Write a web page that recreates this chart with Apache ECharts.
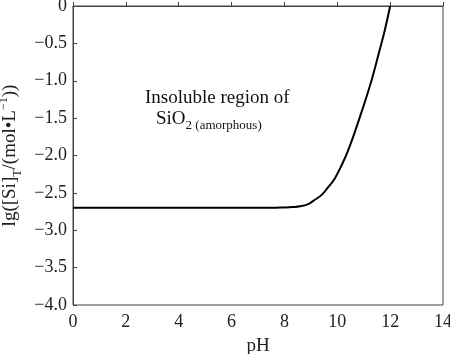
<!DOCTYPE html>
<html><head><meta charset="utf-8">
<script src="https://cdn.jsdelivr.net/npm/echarts@6/dist/echarts.min.js"></script>
<style>html,body{margin:0;padding:0;background:#fff}#c{width:450px;height:354px}</style>
</head><body><div id="c"></div>
<script>
const pH = [0, 2, 4, 6, 7, 7.5, 8, 8.3, 8.6, 8.9, 9.12, 9.4, 9.62, 9.9, 10.19, 10.4, 10.63, 11.01, 11.3, 11.58, 11.8, 12.0];
const lgSi = [-2.70, -2.70, -2.70, -2.70, -2.70, -2.70, -2.695, -2.69, -2.68, -2.65, -2.60, -2.53, -2.44, -2.31, -2.11, -1.94, -1.72, -1.32, -0.99, -0.62, -0.32, 0];
const xTicks = [0, 14, 2];
const yTicks = [-4, 0, 0.5];
const F = '"Liberation Serif", "Times New Roman", serif';
const chart = echarts.init(document.getElementById('c'), null, {renderer: 'canvas'});
chart.setOption({
  animation: false,
  grid: {left: 73, right: 7, top: 6, bottom: 49, containLabel: false, outerBoundsMode: 'none',
         show: true, borderColor: '#444', borderWidth: 1},
  xAxis: {
    type: 'value', min: xTicks[0], max: xTicks[1], interval: xTicks[2],
    name: 'pH', nameLocation: 'middle', nameGap: 32,
    nameTextStyle: {fontFamily: F, fontSize: 19, color: '#222'},
    axisLine: {lineStyle: {color: '#444'}},
    axisTick: {inside: true, length: 4, lineStyle: {color: '#444'}},
    axisLabel: {fontFamily: F, fontSize: 18, color: '#222', margin: 8},
    splitLine: {show: false}
  },
  yAxis: {
    type: 'value', min: yTicks[0], max: yTicks[1], interval: yTicks[2],
    name: '{n|lg([Si]}{s|T}{n|/(mol•L}{p|−1}{n|))}', nameLocation: 'middle', nameGap: 46, nameRotate: 90,
    nameTextStyle: {rich: {
      n: {fontFamily: F, fontSize: 19, color: '#222', lineHeight: 26, verticalAlign: 'middle'},
      s: {fontFamily: F, fontSize: 12, color: '#222', lineHeight: 26, verticalAlign: 'bottom'},
      p: {fontFamily: F, fontSize: 12, color: '#222', lineHeight: 26, verticalAlign: 'top'}
    }},
    axisLine: {lineStyle: {color: '#444'}},
    axisTick: {inside: true, length: 4, lineStyle: {color: '#444'}},
    axisLabel: {fontFamily: F, fontSize: 18, color: '#222', margin: 6,
      formatter: v => (v === 0 ? '0' : v.toFixed(1).replace('-', '−'))},
    splitLine: {show: false}
  },
  graphic: [
    {type: 'text', left: 145, top: 89, style: {text: 'Insoluble region of', font: '19px ' + F, fill: '#111'}},
    {type: 'text', left: 156, top: 110, style: {
      text: '{a|SiO}{b|2 (amorphous)}',
      rich: {
        a: {font: '19px ' + F, fill: '#111', lineHeight: 22, verticalAlign: 'top'},
        b: {font: '13px ' + F, fill: '#111', lineHeight: 22, verticalAlign: 'bottom', padding: [6,0,0,0]}
      }}}
  ],
  series: [{
    type: 'line', data: pH.map((x, i) => [x, lgSi[i]]), smooth: 0.4, showSymbol: false,
    lineStyle: {color: '#000', width: 2}
  }]
});
</script></body></html>
